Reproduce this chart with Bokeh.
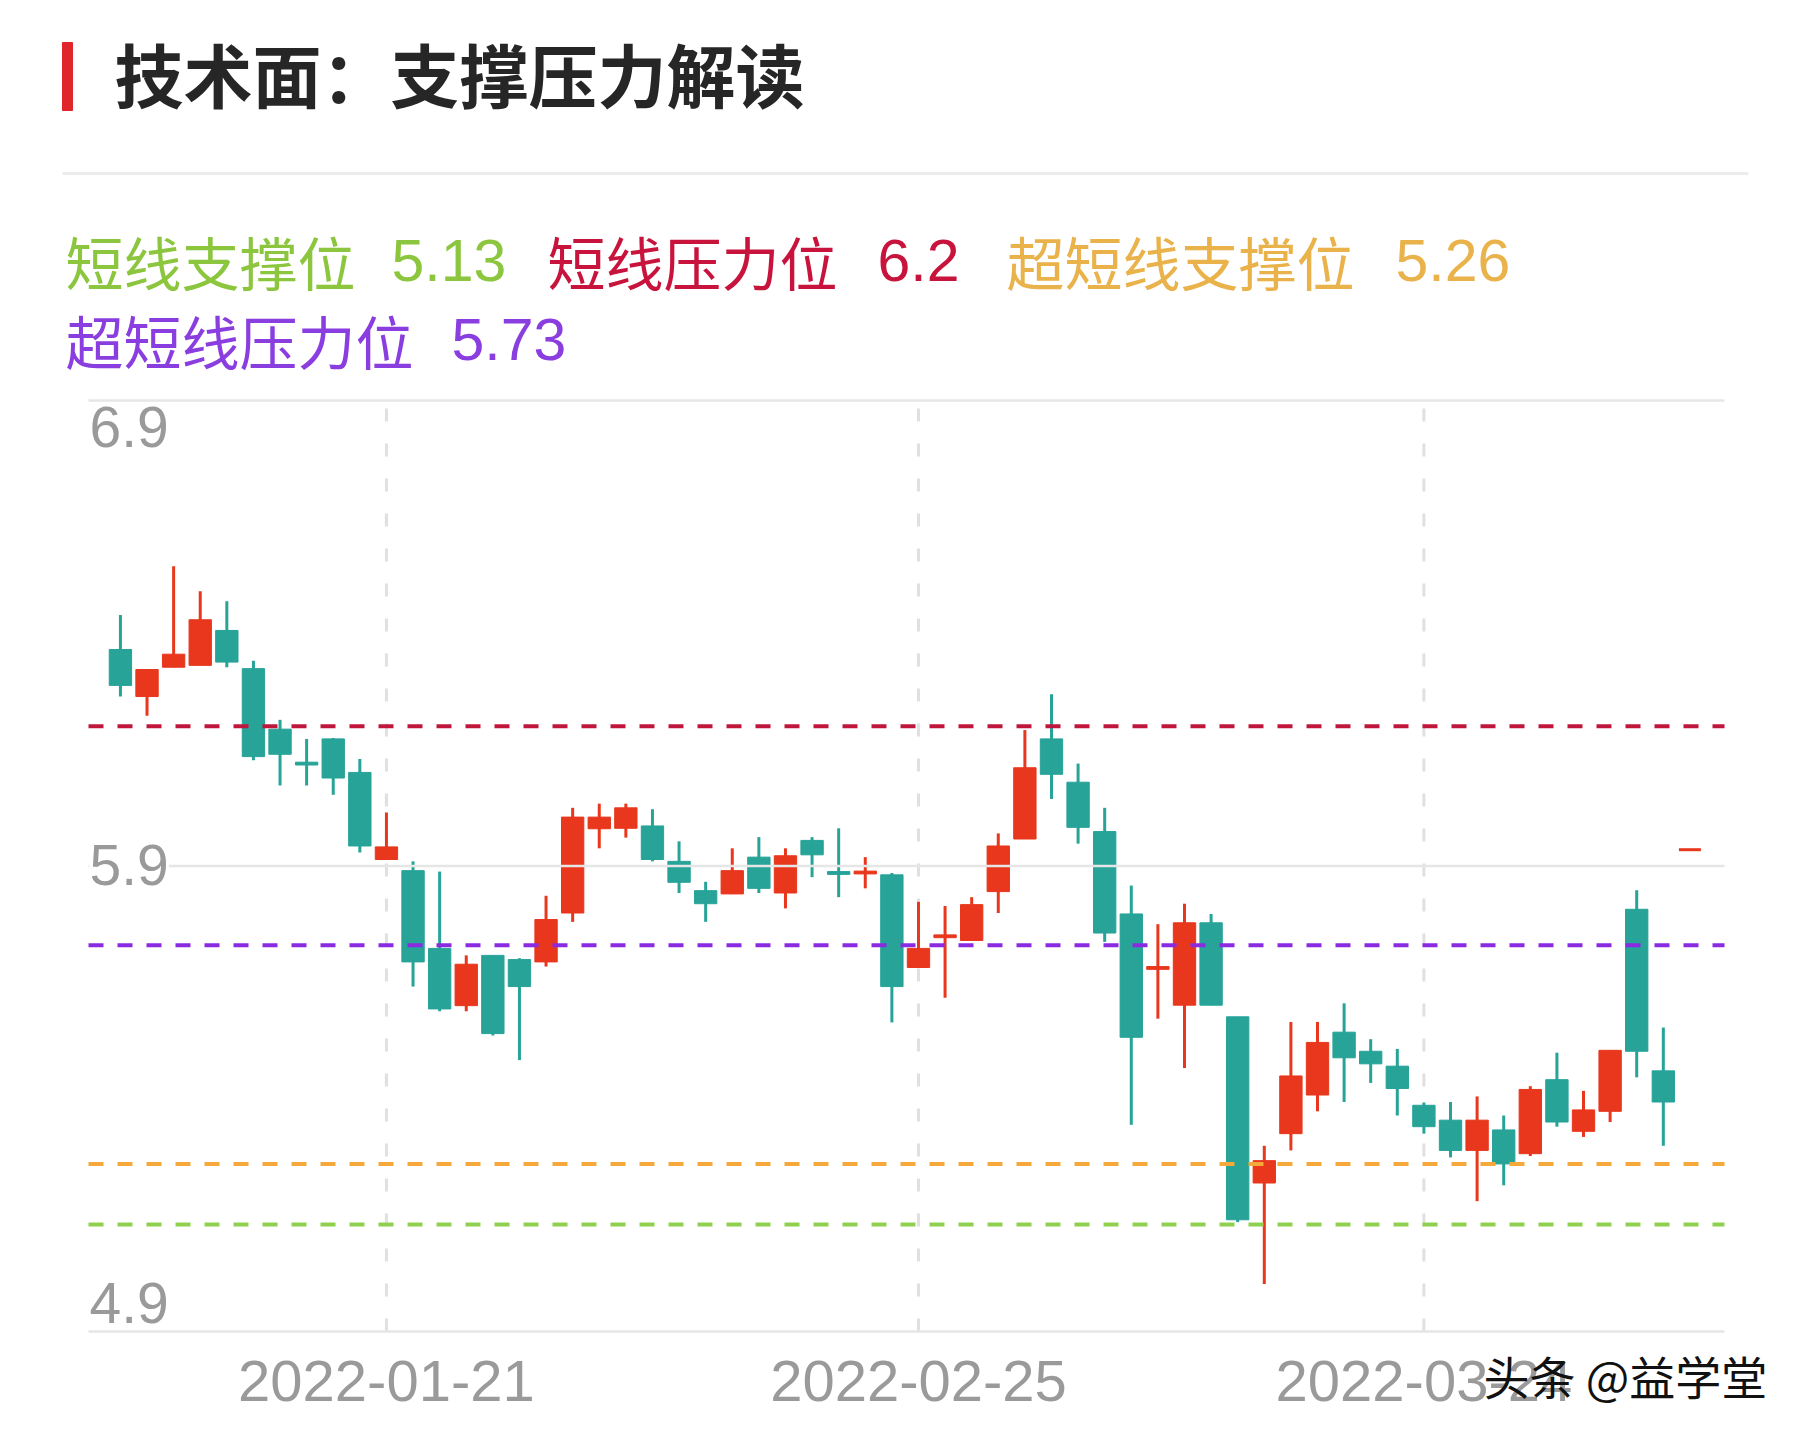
from bokeh.plotting import figure
from bokeh.models import Range1d, ColumnDataSource
from bokeh.embed import file_html
from bokeh.resources import INLINE
from bokeh.core.properties import value

# ---------------- data ----------------
opens = [6.365, 6.264, 6.327, 6.331, 6.406, 6.324, 6.194, 6.123, 6.173, 6.101,
         5.914, 5.890, 5.723, 5.600, 5.708, 5.699, 5.694, 5.799, 5.980, 5.981,
         5.986, 5.910, 5.847, 5.840, 5.919, 5.842, 5.955, 5.888, 5.883, 5.881,
         5.682, 5.746, 5.740, 5.845, 5.958, 6.173, 6.080, 5.974, 5.797, 5.678,
         5.601, 5.778, 5.576, 5.219, 5.325, 5.408, 5.543, 5.502, 5.470, 5.386,
         5.354, 5.289, 5.333, 5.282, 5.441, 5.330, 5.373, 5.807, 5.460]
highs = [6.439, 6.322, 6.544, 6.490, 6.469, 6.341, 6.214, 6.173, 6.175, 6.130,
         6.015, 5.910, 5.888, 5.708, 5.708, 5.702, 5.836, 6.025, 6.034, 6.034,
         6.022, 5.953, 5.866, 5.938, 5.962, 5.938, 5.962, 5.981, 5.919, 5.885,
         5.823, 5.814, 5.833, 5.970, 6.192, 6.269, 6.120, 6.025, 5.858, 5.775,
         5.819, 5.797, 5.576, 5.299, 5.565, 5.565, 5.605, 5.528, 5.507, 5.392,
         5.393, 5.405, 5.364, 5.427, 5.499, 5.417, 5.504, 5.848, 5.553]
lows = [6.264, 6.223, 6.327, 6.331, 6.327, 6.127, 6.073, 6.073, 6.053, 5.929,
        5.914, 5.641, 5.588, 5.588, 5.536, 5.483, 5.684, 5.780, 5.938, 5.961,
        5.910, 5.842, 5.780, 5.840, 5.842, 5.809, 5.876, 5.833, 5.852, 5.564,
        5.682, 5.617, 5.740, 5.799, 5.958, 6.044, 5.948, 5.737, 5.344, 5.572,
        5.466, 5.601, 5.135, 5.002, 5.289, 5.373, 5.393, 5.434, 5.364, 5.325,
        5.274, 5.180, 5.214, 5.277, 5.340, 5.318, 5.350, 5.446, 5.299]
closes = [6.288, 6.322, 6.355, 6.429, 6.338, 6.135, 6.140, 6.117, 6.089, 5.943,
          5.941, 5.694, 5.593, 5.689, 5.540, 5.641, 5.785, 6.005, 6.005, 6.025,
          5.914, 5.865, 5.819, 5.890, 5.852, 5.922, 5.924, 5.882, 5.889, 5.641,
          5.723, 5.752, 5.817, 5.943, 6.111, 6.097, 5.983, 5.756, 5.532, 5.684,
          5.778, 5.601, 5.140, 5.267, 5.449, 5.521, 5.488, 5.475, 5.422, 5.340,
          5.289, 5.354, 5.260, 5.420, 5.350, 5.376, 5.504, 5.502, 5.393]

tick_index = [10, 30, 49]
tick_labels = ["2022-01-21", "2022-02-25", "2022-03-24"]
y_axis_labels = [6.9, 5.9, 4.9]

level_names = ["短线支撑位", "短线压力位", "超短线支撑位", "超短线压力位"]
level_values = [5.13, 6.2, 5.26, 5.73]
level_line_colors = ["#8fd14f", "#c0163c", "#f5a93b", "#8a2be2"]
level_text_colors = ["#8cc63f", "#c8143c", "#e9b24a", "#8b3ee0"]

last_marker_index = [59]
last_marker_price = [5.935]

title_text = "技术面：支撑压力解读"
watermark_text = "头条 @益学堂"

RED = "#e8371d"
TEAL = "#27a398"
CJK = "Noto Sans CJK SC"
LATIN = "Liberation Sans"

# ---------------- layout (pixels inside the canvas) ----------------
W, H = 1792, 1424
FL, FR, FT, FB = 88, 1724, 400, 1331      # price-chart region
XL, XR = -1.2, 60.3                        # index range shown in that region
YB, YT = 4.9, 6.9                          # price range shown in that region


def X(px):
    return XL + (px - FL) * (XR - XL) / (FR - FL)


def Y(py):
    return YT - (py - FT) * (YT - YB) / (FB - FT)


p = figure(width=W, height=H, x_range=Range1d(X(0), X(W)), y_range=Range1d(Y(H), Y(0)),
           toolbar_location=None, output_backend="svg", title=None, min_border=0,
           x_axis_location=None, y_axis_location=None, outline_line_color=None)
p.grid.visible = False

# vertical dashed grid lines at the date ticks
p.segment(x0=tick_index, y0=[YB] * len(tick_index), x1=tick_index, y1=[YT] * len(tick_index),
          line_color="#e0e0e0", line_width=3, line_dash="13 22")

# candles
idx = list(range(len(opens)))
colors = [RED if c >= o else TEAL for o, c in zip(opens, closes)]
src = ColumnDataSource(dict(
    x=idx,
    top=[max(o, c) for o, c in zip(opens, closes)],
    bottom=[min(o, c) for o, c in zip(opens, closes)],
    high=highs, low=lows, color=colors))
p.segment(x0="x", y0="low", x1="x", y1="high", line_color="color", line_width=3, source=src)
p.vbar(x="x", width=0.84, top="top", bottom="bottom", fill_color="color",
       line_color="color", line_width=1, source=src)

# horizontal grid lines (drawn over the candles, as in the source)
p.segment(x0=[XL] * 3, y0=y_axis_labels, x1=[XR] * 3, y1=y_axis_labels,
          line_color="#e6e6e6", line_width=2.5)

# support / resistance lines
p.segment(x0=[XL] * 4, y0=level_values, x1=[XR] * 4, y1=level_values,
          line_color=level_line_colors, line_width=4, line_dash="15 14")

p.scatter(x=last_marker_index, y=last_marker_price, marker="dash", size=22,
          line_color=RED, line_width=3)

# y labels inside the chart region
ylab_center_px = [426, 864, 1302]
for lab, cy in zip(y_axis_labels, ylab_center_px):
    kw = dict(background_fill_color="white") if lab == 5.9 else {}
    p.text(x=[X(FL + 1)], y=[Y(cy)], text=[str(lab)], text_font=value(LATIN),
           text_font_size=value("57px"), text_color="#9a9a9a",
           text_baseline="middle", text_align="left", **kw)

# date labels
p.text(x=tick_index, y=[Y(1380)] * len(tick_index), text=tick_labels, text_font=value(LATIN),
       text_font_size=value("58px"), text_color="#9a9a9a",
       text_baseline="middle", text_align="center")

# watermark
p.text(x=[X(1483)], y=[Y(1374)], text=[watermark_text], text_font=value(CJK),
       text_font_size=value("46px"), text_color="#111111",
       text_baseline="middle", text_align="left")

# header: red bar, title, separator
p.quad(left=[X(62)], right=[X(72)], top=[Y(42)], bottom=[Y(110)], color="#e0262b")
p.text(x=[X(114)], y=[Y(72)], text=[title_text], text_font=value(CJK),
       text_font_size=value("69px"), text_font_style="bold",
       text_color="#262626", text_baseline="middle", text_align="left")
p.segment(x0=[X(62)], y0=[Y(173)], x1=[X(1748)], y1=[Y(173)], line_color="#ececec", line_width=3)

# legend of levels
name_x = [65, 547, 1006, 65]
row_y = [260, 260, 260, 339]
value_x = [391, 877, 1395, 451]
p.text(x=[X(v) for v in name_x], y=[Y(v) for v in row_y], text=level_names,
       text_font=value(CJK), text_font_size=value("58px"), text_color=level_text_colors,
       text_baseline="middle", text_align="left")
p.text(x=[X(v) for v in value_x], y=[Y(v) for v in row_y], text=[str(v) for v in level_values],
       text_font=value(LATIN), text_font_size=value("59px"), text_color=level_text_colors,
       text_baseline="middle", text_align="left")

open("out.html", "w").write(file_html(p, INLINE))
